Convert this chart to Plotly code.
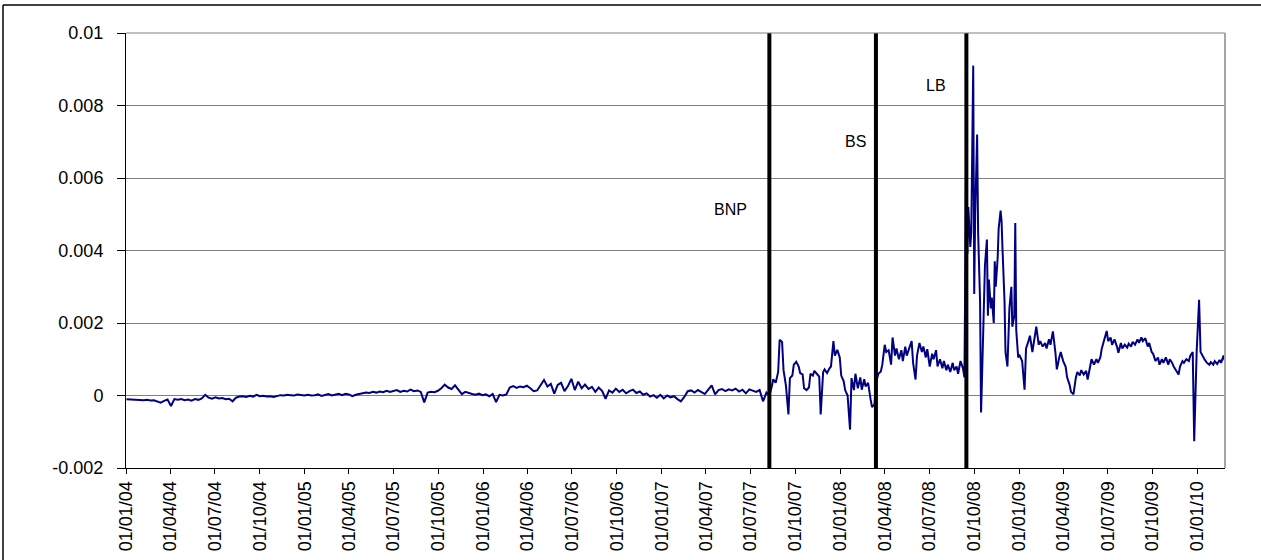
import pandas as pd
import plotly.graph_objects as go

# ---------------- data (values in units of 1e-4) ----------------
# Segment A: weekly (Fridays) from 2004-01-02
seg_a_start = "2004-01-02"
seg_a_values = [
    -1.0, -1.1, -1.2, -1.1, -1.2, -1.3, -1.2, -1.4, -1.3, -1.6,
    -2.0, -1.5, -1.1, -2.9, -1.0, -1.2, -1.0, -1.3, -1.1, -1.4,
    -1.0, -1.2, -0.8, 0.2, -0.6, -0.9, -0.5, -0.8, -0.7, -1.0,
    -0.9, -1.6, -0.6, -0.3, -0.2, -0.4, -0.1, -0.3, 0.2, -0.2,
    -0.1, -0.3, -0.2, -0.4, -0.1, 0.1, 0.0, 0.2, 0.1, 0.0,
    0.3, 0.1, 0.0, 0.2, 0.0, 0.1, 0.3, -0.1, 0.2, 0.4,
    0.0, 0.3, 0.5, 0.1, 0.5, 0.3, -0.2, 0.2, 0.4, 0.6,
    0.8, 0.7, 1.0, 0.8, 1.1, 0.9, 1.3, 1.0, 1.2, 1.5,
    1.0, 1.3, 1.1, 1.6, 1.2, 1.4, 1.0, -1.9, 0.8, 1.0,
    0.9, 1.3, 2.0, 3.0, 2.2, 1.8, 2.8, 1.6, 0.4, 1.0,
    0.6, 0.4, 0.2, 0.5, 0.1, 0.3, -0.2, 0.4, -1.8, 0.2,
    0.0, 0.3, 2.2, 2.6, 2.1, 2.5, 2.3, 2.7, 2.0, 1.2,
    1.4, 2.8, 4.3, 2.5, 3.2, 0.5, 2.9, 3.5, 1.2, 2.6,
    4.6, 1.5, 3.8, 2.0, 3.0, 1.8, 2.4, 1.0, 2.2, 1.2,
    -0.9, 1.4, 0.8, 1.9, 1.0, 1.6, 0.6, 1.2, 1.6, 0.7,
    1.1, 0.2, 0.6, -0.3, 0.1, -0.6, 0.2, -0.8, 0.0, -0.5,
    -0.2, -1.0, -1.6, -0.4, 1.2, 1.4, 0.8, 1.5, 1.0, 0.4,
    1.6, 2.8, 0.3, 1.5, 1.8, 1.2, 1.7, 1.4, 1.9, 1.1,
    1.6, 0.6, 1.7, 1.3, 1.0, 1.5, -1.6, 0.8,
]

# Segment B: every 3 business days from 2007-08-06
seg_b_start = "2007-08-06"
seg_b_values = [
    0.3, 0.0, 2.5, 4.5, 3.5, 6.5, 15.4, 14.8, 7.0, 2.6,
    -5.2, 4.8, 5.5, 8.5, 9.3, 8.0, 6.2, 5.8, 2.0, 1.5,
    2.2, 6.0, 5.5, 6.8, 6.0, 5.2, -5.2, 6.5, 7.2, 6.2,
    7.5, 8.0, 15.0, 11.0, 12.6, 10.5, 5.5, 4.0, 1.5, 0.0,
    -9.4, 4.8, 1.5, 6.0, 2.0, 5.0, 1.6, 4.5, 2.5, 3.5,
    -1.0, -3.2, -2.5, 3.5, 6.0, 6.6, 8.5, 14.0, 12.0, 12.5,
    8.5, 16.0, 11.0, 13.0, 10.0, 12.5, 9.5, 13.5, 11.0, 13.0,
    15.0, 9.0, 4.4, 11.0, 14.5, 12.0, 13.5, 10.5, 12.8, 8.0,
    11.5, 10.0, 12.5, 8.0, 10.0, 7.5, 9.5, 7.0, 8.5, 6.5,
    9.0, 7.0, 8.0, 6.0, 9.5, 7.5, 5.0,
]

# Segment C: every 2 business days from 2008-09-15
seg_c_start = "2008-09-15"
seg_c_values = [
    72.0, 39.0, 52.0, 41.0, 45.0, 91.0, 28.0, 50.0, 72.0, 45.0,
    26.0, -4.7, 5.0, 25.0, 36.0, 43.0, 22.0, 32.0, 24.0, 27.0,
    20.0, 37.0, 30.0, 38.0, 46.0, 51.0, 48.0, 40.0, 26.0, 12.0,
    8.0, 16.0, 24.0, 30.0, 19.0, 22.0, 47.6, 18.0, 10.5,
]

# Segment D: every 3 business days from 2009-01-02
seg_d_start = "2009-01-02"
seg_d_values = [
    11.0, 9.5, 1.6, 13.0, 15.0, 16.5, 12.0, 16.0, 19.0, 14.0,
    15.0, 13.5, 14.5, 13.0, 15.5, 14.0, 17.7, 12.0, 7.2, 10.5,
    12.0, 9.5, 8.0, 5.0, 3.0, 1.0, 0.3, 5.0, 6.5, 5.5,
    7.0, 5.8, 6.8, 4.4, 8.0, 10.0, 8.5, 10.0, 9.0, 10.5,
    13.0, 15.5, 17.8, 15.0, 16.0, 14.0, 15.5, 13.5, 11.8, 14.5,
    13.0, 14.0, 13.2, 14.3, 13.5, 14.8, 14.0, 15.5, 14.5, 16.0,
    15.0, 15.8, 13.5, 14.5, 12.0, 11.5, 9.5, 10.5, 8.5, 10.0,
    9.0, 10.5, 8.5, 10.0, 9.0, 8.0, 7.0, 5.8, 8.0, 9.5,
    9.0, 10.0, 9.5, 11.0, 12.0, -12.6, 12.0, 26.4, 12.0, 10.5,
    10.0, 9.0, 8.5, 9.2, 8.5, 9.5, 8.7, 9.8, 9.0, 11.0,
    9.5,
]
VALUE_UNIT = 1e-4

# events
event_dates = ["2007-08-09", "2008-03-14", "2008-09-15"]
event_labels = ["BNP", "BS", "LB"]

# axes
x_range = ["2004-01-01", "2010-02-26"]
x_tick_vals = [
    "2004-01-01", "2004-04-01", "2004-07-01", "2004-10-01",
    "2005-01-01", "2005-04-01", "2005-07-01", "2005-10-01",
    "2006-01-01", "2006-04-01", "2006-07-01", "2006-10-01",
    "2007-01-01", "2007-04-01", "2007-07-01", "2007-10-01",
    "2008-01-01", "2008-04-01", "2008-07-01", "2008-10-01",
    "2009-01-01", "2009-04-01", "2009-07-01", "2009-10-01",
    "2010-01-01",
]
x_tick_labels = [
    "01/01/04", "01/04/04", "01/07/04", "01/10/04",
    "01/01/05", "01/04/05", "01/07/05", "01/10/05",
    "01/01/06", "01/04/06", "01/07/06", "01/10/06",
    "01/01/07", "01/04/07", "01/07/07", "01/10/07",
    "01/01/08", "01/04/08", "01/07/08", "01/10/08",
    "01/01/09", "01/04/09", "01/07/09", "01/10/09",
    "01/01/10",
]
y_tick_vals = [-0.002, 0, 0.002, 0.004, 0.006, 0.008, 0.01]
y_tick_labels = ["-0.002", "0", "0.002", "0.004", "0.006", "0.008", "0.01"]

# ---------------- build series ----------------
dates = []
values = []
for start, vals, freq in [
    (seg_a_start, seg_a_values, "W-FRI"),
    (seg_b_start, seg_b_values, "3B"),
    (seg_c_start, seg_c_values, "2B"),
    (seg_d_start, seg_d_values, "3B"),
]:
    dates.extend(pd.date_range(start, periods=len(vals), freq=freq))
    values.extend(v * VALUE_UNIT for v in vals)

# ---------------- layout geometry ----------------
W, H = 1261, 560
ML, MR, MT, MB = 126, 36, 33, 92
PW, PH = W - ML - MR, H - MT - MB


def px_x(px):
    return (px - ML) / PW


def px_y(py):
    return (H - MB - py) / PH


FONT = "Liberation Sans, Arial, sans-serif"

fig = go.Figure()
fig.add_trace(go.Scatter(
    x=dates, y=values, mode="lines",
    line=dict(color="#000080", width=2),
    hoverinfo="x+y",
))

shapes = []
# event lines
for d in event_dates:
    shapes.append(dict(type="line", xref="x", yref="paper", x0=d, x1=d, y0=0, y1=1,
                       line=dict(color="black", width=4)))
# plot frame (top gray, right light gray)
shapes.append(dict(type="line", xref="paper", yref="paper", x0=0, x1=1, y0=1, y1=1,
                   line=dict(color="#808080", width=1)))
shapes.append(dict(type="line", xref="paper", yref="paper", x0=1, x1=1, y0=0, y1=1,
                   line=dict(color="#a6a6a6", width=2)))
# outer chart frame (top and left visible)
shapes.append(dict(type="line", xref="paper", yref="paper",
                   x0=px_x(3), x1=px_x(1265), y0=px_y(5), y1=px_y(5),
                   line=dict(color="black", width=1.5)))
shapes.append(dict(type="line", xref="paper", yref="paper",
                   x0=px_x(3), x1=px_x(3), y0=px_y(5), y1=px_y(565),
                   line=dict(color="black", width=1.5)))

annotation_pos = [("2007-05-21", 0.00512), ("2008-02-02", 0.0070), ("2008-07-14", 0.00854)]
annotations = []
for label, (ax, ay) in zip(event_labels, annotation_pos):
    annotations.append(dict(x=ax, y=ay, xref="x", yref="y", text=label, showarrow=False,
                            font=dict(size=16, color="black", family=FONT),
                            xanchor="center", yanchor="middle"))

fig.update_layout(
    width=W, height=H,
    margin=dict(l=ML, r=MR, t=MT, b=MB, pad=0),
    paper_bgcolor="white", plot_bgcolor="white",
    showlegend=False,
    font=dict(family=FONT, color="black"),
    shapes=shapes,
    annotations=annotations,
    xaxis=dict(
        type="date", range=x_range,
        tickvals=x_tick_vals, ticktext=x_tick_labels,
        tickangle=-90, ticks="outside", ticklen=5, tickcolor="black", tickwidth=1,
        showline=True, linecolor="black", linewidth=1,
        showgrid=False, zeroline=False, automargin=False,
        tickfont=dict(size=18, color="black", family=FONT),
    ),
    yaxis=dict(
        range=[-0.002, 0.01],
        tickvals=y_tick_vals, ticktext=y_tick_labels,
        ticks="outside", ticklen=8, tickcolor="black", tickwidth=1,
        showline=True, linecolor="black", linewidth=1,
        showgrid=True, gridcolor="#808080", gridwidth=1,
        zeroline=False, automargin=False, ticklabelstandoff=10,
        tickfont=dict(size=18, color="black", family=FONT),
    ),
)

fig.write_html(
    "out.html",
    config={"displayModeBar": False},
    post_script="document.body.style.margin='0';document.body.style.overflow='hidden';",
)
